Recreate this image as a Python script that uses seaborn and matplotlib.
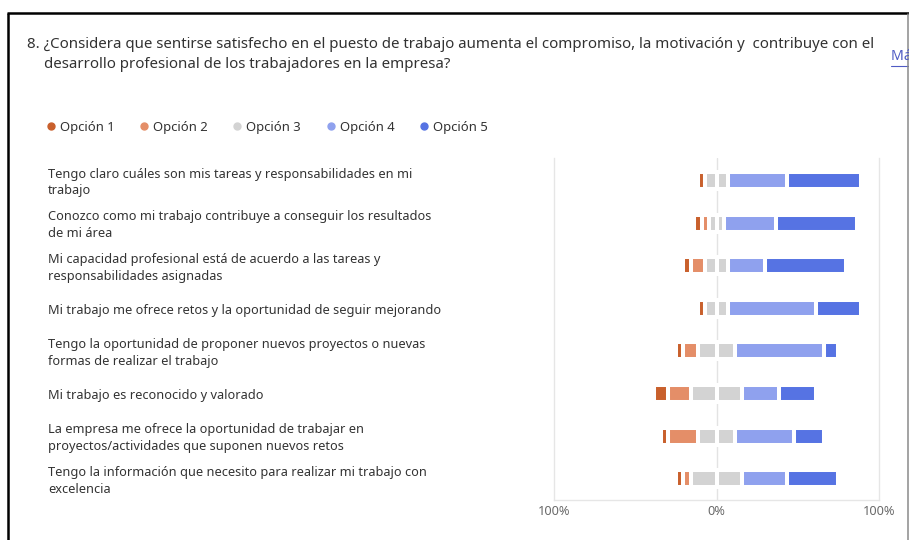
import matplotlib
matplotlib.use("Agg")
import matplotlib.pyplot as plt
from matplotlib.lines import Line2D
import matplotlib.transforms as mtransforms
import numpy as np
import pandas as pd
import seaborn as sns

# Respuestas (número de personas) por afirmación y opción
afirmaciones = [
    "Tengo claro cuáles son mis tareas y responsabilidades en mi\ntrabajo",
    "Conozco como mi trabajo contribuye a conseguir los resultados\nde mi área",
    "Mi capacidad profesional está de acuerdo a las tareas y\nresponsabilidades asignadas",
    "Mi trabajo me ofrece retos y la oportunidad de seguir mejorando",
    "Tengo la oportunidad de proponer nuevos proyectos o nuevas\nformas de realizar el trabajo",
    "Mi trabajo es reconocido y valorado",
    "La empresa me ofrece la oportunidad de trabajar en\nproyectos/actividades que suponen nuevos retos",
    "Tengo la información que necesito para realizar mi trabajo con\nexcelencia",
]
opcion_1 = [1, 1, 1, 1, 1, 2, 1, 1]
opcion_2 = [0, 1, 2, 0, 2, 3, 4, 1]
opcion_3 = [3, 2, 3, 3, 5, 7, 5, 7]
opcion_4 = [8, 7, 5, 12, 12, 5, 8, 6]
opcion_5 = [10, 11, 11, 6, 2, 5, 4, 7]
total_respuestas = 22

opciones = ["Opción 1", "Opción 2", "Opción 3", "Opción 4", "Opción 5"]
colores = ["#C9602C", "#E48E68", "#D3D3D3", "#8FA1EE", "#5673E3"]
tick_labels = ["100%", "0%", "100%"]

sns.set_theme(style="white")
plt.rcParams["font.family"] = ["Noto Sans", "DejaVu Sans"]

W, H = 909, 540
fig = plt.figure(figsize=(W / 100, H / 100), dpi=100)
fig.patch.set_facecolor("white")


def fx(px):
    return px / W


def fy(py):
    return 1 - py / H


# Porcentajes y extremos acumulados de la barra divergente
df = pd.DataFrame({
    "afirmacion": afirmaciones,
    "o1": np.array(opcion_1) / total_respuestas * 100,
    "o2": np.array(opcion_2) / total_respuestas * 100,
    "o3": np.array(opcion_3) / total_respuestas * 100,
    "o4": np.array(opcion_4) / total_respuestas * 100,
    "o5": np.array(opcion_5) / total_respuestas * 100,
})
mitad = df["o3"] / 2
df["der_5"] = mitad + df["o4"] + df["o5"]
df["der_4"] = mitad + df["o4"]
df["der_3"] = mitad
df["izq_1"] = -(mitad + df["o2"] + df["o1"])
df["izq_2"] = -(mitad + df["o2"])
df["izq_3"] = -mitad

ax = fig.add_axes([fx(554), fy(500), fx(879) - fx(554), fy(158) - fy(500)])

capas = [
    ("der_5", colores[4]), ("der_4", colores[3]), ("der_3", colores[2]),
    ("izq_1", colores[0]), ("izq_2", colores[1]), ("izq_3", colores[2]),
]
for col, c in capas:
    sns.barplot(data=df, x=col, y="afirmacion", orient="h", color=c,
                saturation=1, width=0.40, errorbar=None,
                edgecolor="white", linewidth=2.9, ax=ax, zorder=2)

ax.axvline(0, color="#E3E3E3", lw=1, zorder=0)
ax.set_xlim(-100, 100)
ax.set_ylim(len(afirmaciones) - 0.5, -0.53)
ax.set_xticks([-100, 0, 100])
ax.set_xticklabels(tick_labels)
ax.tick_params(axis="x", length=0, pad=3.5, labelsize=9.2, labelcolor="#6A6A6A")
ax.set_yticks([])
ax.set_xlabel("")
ax.set_ylabel("")
for s in ["left", "right", "bottom"]:
    ax.spines[s].set_color("#E6E6E6")
    ax.spines[s].set_linewidth(1)
ax.spines["top"].set_visible(False)

# Textos de cada afirmación, alineados a la izquierda
trans = mtransforms.blended_transform_factory(fig.transFigure, ax.transData)
trans = trans + mtransforms.ScaledTranslation(0, -2 / 100, fig.dpi_scale_trans)
for i, texto in enumerate(afirmaciones):
    ax.text(fx(48), i, texto, transform=trans, ha="left", va="center",
            fontsize=9.2, color="#333333", linespacing=1.38, clip_on=False)

# Pregunta
fig.text(fx(27), fy(44),
         "8. ¿Considera que sentirse satisfecho en el puesto de trabajo aumenta el compromiso, "
         "la motivación y  contribuye con el",
         ha="left", va="center", fontsize=10.8, color="#323232")
fig.text(fx(44), fy(64), "desarrollo profesional de los trabajadores en la empresa?",
         ha="left", va="center", fontsize=10.8, color="#323232")

# Enlace lateral
fig.text(fx(891), fy(57), "Más detalles", ha="left", va="center",
         fontsize=10.2, color="#4F5BC4")
fig.add_artist(Line2D([fx(891), fx(909)], [fy(66), fy(66)],
                      transform=fig.transFigure, color="#4F5BC4", lw=0.8))

# Leyenda
handles = [Line2D([], [], marker="o", linestyle="", markersize=5,
                  markerfacecolor=c, markeredgecolor=c) for c in colores]
fig.legend(handles, opciones, loc="center left",
           bbox_to_anchor=(fx(47), fy(127)), ncol=5, frameon=False,
           fontsize=9.4, handlelength=0.62, handletextpad=0.38,
           columnspacing=1.95, borderpad=0, borderaxespad=0,
           labelcolor="#333333")

# Marco de la tarjeta
fig.add_artist(Line2D([fx(8), fx(8)], [fy(13), 0], transform=fig.transFigure,
                      color="black", lw=1.8, solid_capstyle="butt"))
fig.add_artist(Line2D([fx(7), 1], [fy(13), fy(13)], transform=fig.transFigure,
                      color="black", lw=1.8, solid_capstyle="butt"))
fig.add_artist(Line2D([fx(907.5), fx(907.5)], [fy(14), 0],
                      transform=fig.transFigure, color="#8A8A8A", lw=1.1))

fig.savefig("out.png", dpi=100, facecolor="white")
